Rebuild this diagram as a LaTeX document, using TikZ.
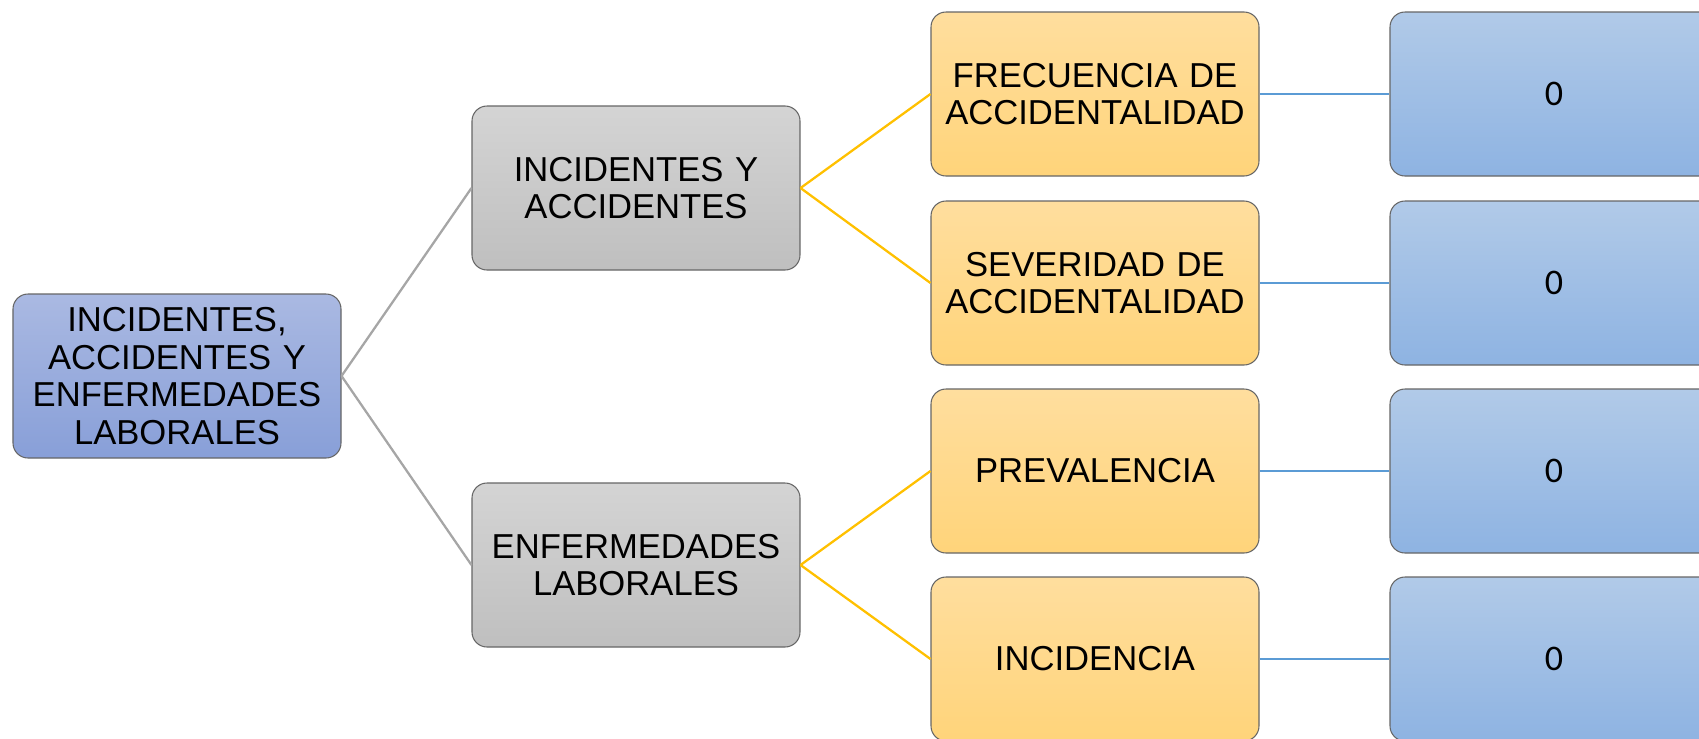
\documentclass[tikz,border=0pt]{standalone}
\usepackage{fontspec}
\setmainfont{Liberation Sans}
\newfontfamily\zerofont{Carlito}
\usepackage{tikz}
\usetikzlibrary{shapes,positioning}

\definecolor{rootTop}{HTML}{AAB9E2}
\definecolor{rootBot}{HTML}{889FD8}
\definecolor{grayTop}{HTML}{D4D4D4}
\definecolor{grayBot}{HTML}{BFBFBF}
\definecolor{goldTop}{HTML}{FFDE9E}
\definecolor{goldBot}{HTML}{FFD47A}
\definecolor{skyTop}{HTML}{B1CAE8}
\definecolor{skyBot}{HTML}{8EB3E2}
\definecolor{linkGray}{HTML}{A6A6A6}
\definecolor{linkGold}{HTML}{FFC000}
\definecolor{linkSky}{HTML}{5B9BD5}

\begin{document}
\begin{tikzpicture}[x=0.2mm,y=-0.2mm]
			\tikzstyle{Box}		= [rectangle, rounded corners=3mm, draw=black!60, line width=0.6pt, minimum width=6.56cm, minimum height=3.28cm, inner sep=0pt, text width=6.4cm, align=center, font=\fontsize{19.7}{21.5}\selectfont]
			\tikzstyle{Root}	= [Box, top color=rootTop, bottom color=rootBot]
			\tikzstyle{Branch}	= [Box, top color=grayTop, bottom color=grayBot]
			\tikzstyle{Index}	= [Box, top color=goldTop, bottom color=goldBot]
			\tikzstyle{Value}	= [Box, top color=skyTop, bottom color=skyBot, font=\zerofont\fontsize{20.5}{22}\selectfont]
			\tikzstyle{GL}		= [line width=1.3pt, linkGray]
			\tikzstyle{YL}		= [line width=1.3pt, linkGold]
			\tikzstyle{BL}		= [line width=1.3pt, linkSky]
			
			\clip (0,0) rectangle (1699,738);
			
			\node (root) at (177,376) [Root] {INCIDENTES,\\ACCIDENTES Y\\ENFERMEDADES\\LABORALES};
			\node (acc) at (636,188) [Branch] {INCIDENTES Y\\ACCIDENTES};
			\node (enf) at (636,565) [Branch] {ENFERMEDADES\\LABORALES};
			
			\node (frec) at (1095,94) [Index] {FRECUENCIA DE\\ACCIDENTALIDAD};
			\node (sev) at (1095,283) [Index] {SEVERIDAD DE\\ACCIDENTALIDAD};
			\node (prev) at (1095,471) [Index] {PREVALENCIA};
			\node (inci) at (1095,659) [Index] {INCIDENCIA};
			
			\node (v1) at (1554,94) [Value] {0};
			\node (v2) at (1554,283) [Value] {0};
			\node (v3) at (1554,471) [Value] {0};
			\node (v4) at (1554,659) [Value] {0};
			
			\draw [-] (root.east) to (acc.west) [GL];
			\draw [-] (root.east) to (enf.west) [GL];
			\draw [-] (acc.east) to (frec.west) [YL];
			\draw [-] (acc.east) to (sev.west) [YL];
			\draw [-] (enf.east) to (prev.west) [YL];
			\draw [-] (enf.east) to (inci.west) [YL];
			\draw [-] (frec) to (v1) [BL];
			\draw [-] (sev) to (v2) [BL];
			\draw [-] (prev) to (v3) [BL];
			\draw [-] (inci) to (v4) [BL];
			
		\end{tikzpicture}
\end{document}
